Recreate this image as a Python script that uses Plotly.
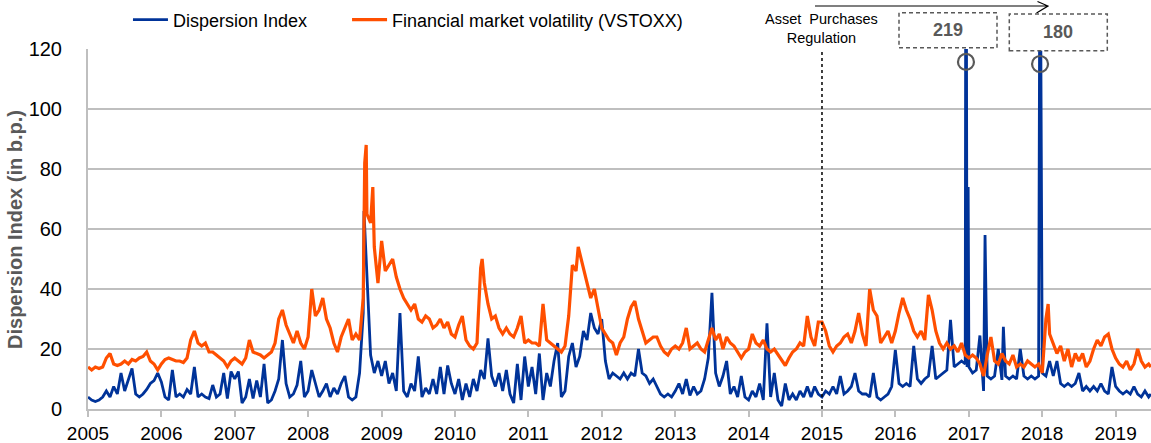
import datetime as dt
import plotly.graph_objects as go

# ---------------- data (values sampled every 0.05 year) ----------------
STEP = 0.05

VSTOXX_2005 = [14, 13, 14, 13.5, 14, 17, 18.5, 15, 14.5, 15, 16, 15, 16.5, 16, 17, 17.5, 19, 16, 15, 13]
VSTOXX_2006 = [15, 16.5, 17, 16.5, 16, 16, 15.5, 17, 23, 26, 22, 21, 22, 19, 19, 18, 17, 16, 14, 16]
VSTOXX_2007 = [17, 16, 15, 17, 23, 19, 18.5, 18, 17, 18, 19, 22, 30, 33, 28, 25, 22, 26, 22, 20]
VSTOXX_2008 = [24, 40, 31, 33, 37, 30, 27, 22, 19, 24, 27, 30, 23, 25, 23, 37, 65, 62, 54, 42]
VSTOXX_2009 = [56, 46, 48, 50, 44, 40, 37, 35, 33, 35, 30, 29, 31, 30, 27, 28, 30, 27, 29, 25]
VSTOXX_2010 = [24, 28, 31, 23, 21, 20, 22, 47, 42, 35, 30, 31, 27, 25, 27, 25, 24, 27, 31, 22]
VSTOXX_2011 = [23, 22, 22, 21, 35, 23, 22, 21, 20, 19, 21, 31, 48, 46, 52, 46, 42, 37, 40, 34]
VSTOXX_2012 = [27, 25, 23, 22, 18, 22, 24, 30, 34, 36, 30, 26, 22, 23, 24, 24, 21, 19, 18, 20]
VSTOXX_2013 = [21, 20, 22, 27, 20, 21, 22, 20, 19, 23, 27, 23, 25, 20, 24, 22, 21, 19, 17, 19]
VSTOXX_2014 = [20, 25, 22, 21, 23, 20, 19, 20, 18, 16, 14.5, 17, 19, 20, 22, 21, 31, 24, 21, 29]
VSTOXX_2015 = [29, 26, 21, 19, 21, 22, 24, 25, 22, 26, 32, 25, 21, 40, 33, 31, 22, 24, 26, 22]
VSTOXX_2016 = [26, 32, 37, 33, 30, 26, 24, 26, 23, 38, 33, 26, 22, 20, 22, 20, 21, 19, 22, 18]
VSTOXX_2017 = [17, 18, 17, 15, 11, 18, 24, 16, 15, 18.5, 16, 15, 18, 14, 15, 14, 16, 15, 14, 15]
VSTOXX_2018 = [12, 30, 25, 22, 18.5, 21, 16, 20, 14, 18.5, 16, 18.5, 14, 16, 20, 23, 21, 24, 25, 20]
VSTOXX_2019 = [17, 15, 14, 16, 13, 15, 20, 16, 14, 15]
VSTOXX_PEAK_YEARS = [2008.77, 2008.79, 2008.88, 2010.37, 2011.68, 2018.08, 2019.48]
VSTOXX_PEAK_VALUES = [82, 88, 74, 50, 54, 35, 14]

DISP_2005 = [4, 3, 2.5, 3, 4, 6, 4, 7.5, 5, 12, 6, 10, 13.5, 5, 4, 5, 6.5, 8.5, 9.5, 12]
DISP_2006 = [9, 4, 3, 13, 4, 5, 4, 6.5, 5, 14, 4, 5, 4, 3.5, 8, 4, 5, 12, 3.5, 12.5]
DISP_2007 = [10, 12.5, 2, 4, 10, 3.5, 9.5, 4, 15, 2, 3, 6, 10, 23, 8.5, 4, 5, 8, 16, 4]
DISP_2008 = [6, 13, 8.5, 4, 6, 8.5, 4, 7, 5, 8.5, 11, 4, 3, 4, 12, 32, 43, 18, 12, 16]
DISP_2009 = [11, 16, 8.5, 12, 6, 32, 6, 4, 8.5, 6, 17.5, 4, 7, 5, 10, 5, 14, 5, 14.5, 8.5]
DISP_2010 = [5, 10, 3, 8.5, 4, 10, 6, 13, 10, 23.5, 11, 7.5, 12, 6, 13, 5, 2, 15, 3, 17.5]
DISP_2011 = [7.5, 14, 5, 18.5, 3, 12, 7.5, 16, 22, 4, 6, 17.5, 22, 14, 17.5, 26, 23, 32, 27, 25]
DISP_2012 = [30, 16, 10, 12, 11, 10, 12, 10, 12, 11, 20, 12, 11, 8.5, 10, 7.5, 5, 4, 5, 4]
DISP_2013 = [6, 8.5, 5, 10, 4.5, 7.5, 5, 6, 10, 17, 38.7, 12, 7.5, 11, 16, 5, 7.5, 4, 11, 4]
DISP_2014 = [3, 6, 4, 8.5, 3, 28.6, 4, 12, 3, 1, 8.5, 3, 5, 3, 6, 4, 7.5, 4, 7.5, 5]
DISP_2015 = [4, 6, 5, 7.5, 5, 11, 5, 6, 7.5, 12, 6, 5, 5, 4, 12, 4, 3, 4, 5, 7.5]
DISP_2016 = [19.7, 8.5, 7.5, 8.5, 7.5, 21, 10, 8.5, 10, 11, 21, 10, 11, 12, 13, 29.7, 14, 15, 16, 15]
DISP_2017 = [14, 12, 13, 24.5, 6, 11, 10, 11, 20, 9.7, 11, 10, 11, 10, 20, 11, 10, 11, 10, 11]
DISP_2018 = [12, 11, 16, 11, 16, 8.5, 7.5, 8.5, 7.5, 8.5, 12, 6, 7.5, 6, 7.5, 6, 8.5, 6, 5, 14]
DISP_2019 = [7.5, 6, 5, 6, 5, 7.5, 5, 4, 6, 4]
DISP_PEAK_YEARS = [2008.76, 2016.96, 2016.975, 2016.99, 2017.22, 2017.47, 2017.97, 2019.48]
DISP_PEAK_VALUES = [66, 219, 14, 74, 58, 27.4, 180, 5]

YEARS = list(range(2005, 2020))
VSTOXX_BY_YEAR = [VSTOXX_2005, VSTOXX_2006, VSTOXX_2007, VSTOXX_2008, VSTOXX_2009,
                  VSTOXX_2010, VSTOXX_2011, VSTOXX_2012, VSTOXX_2013, VSTOXX_2014,
                  VSTOXX_2015, VSTOXX_2016, VSTOXX_2017, VSTOXX_2018, VSTOXX_2019]
DISP_BY_YEAR = [DISP_2005, DISP_2006, DISP_2007, DISP_2008, DISP_2009,
                DISP_2010, DISP_2011, DISP_2012, DISP_2013, DISP_2014,
                DISP_2015, DISP_2016, DISP_2017, DISP_2018, DISP_2019]

TICK_YEARS = list(range(2005, 2020))
LABEL_SERIES_1 = "Dispersion Index"
LABEL_SERIES_2 = "Financial market volatility (VSTOXX)"
EVENT_YEAR = 2015.0
EVENT_TEXT = "Asset\u00a0 Purchases<br>Regulation"
OFFSCALE_LABELS = ["219", "180"]
OFFSCALE_YEARS = [2016.96, 2017.97]


def to_date(y):
    yr = int(y)
    start = dt.datetime(yr, 1, 1)
    days = (dt.datetime(yr + 1, 1, 1) - start).days
    return start + dt.timedelta(days=(y - yr) * days)


def build(by_year, peak_years, peak_values):
    pts = []
    for yr, vals in zip(YEARS, by_year):
        for i, v in enumerate(vals):
            pts.append((yr + i * STEP, v))
    pts += list(zip(peak_years, peak_values))
    pts.sort()
    return [to_date(p[0]) for p in pts], [p[1] for p in pts]


dx, dy = build(DISP_BY_YEAR, DISP_PEAK_YEARS, DISP_PEAK_VALUES)
vx, vy = build(VSTOXX_BY_YEAR, VSTOXX_PEAK_YEARS, VSTOXX_PEAK_VALUES)

FONT = "Liberation Sans, Arial, sans-serif"
GRID = "#bfbfbf"
DARK = "#595959"

fig = go.Figure()
fig.add_trace(go.Scatter(x=dx, y=dy, mode="lines", name=LABEL_SERIES_1, legend="legend",
                         line=dict(color="#003399", width=2.8)))
fig.add_trace(go.Scatter(x=vx, y=vy, mode="lines", name=LABEL_SERIES_2, legend="legend2",
                         line=dict(color="#ff4f00", width=3.2)))

x_end = 2005 + 1063 / 73.4
legend_font = dict(size=18, family=FONT, color="black")

fig.update_layout(
    width=1151, height=443,
    margin=dict(l=88, r=0, t=49, b=34, autoexpand=False),
    paper_bgcolor="white", plot_bgcolor="white",
    font=dict(family=FONT, color="black"),
    showlegend=True,
    legend=dict(orientation="h", x=0.0376, xanchor="left", y=1.0806, yanchor="middle",
                font=legend_font, bgcolor="rgba(0,0,0,0)", itemwidth=35),
    legend2=dict(orientation="h", x=0.2437, xanchor="left", y=1.0806, yanchor="middle",
                 font=legend_font, bgcolor="rgba(0,0,0,0)", itemwidth=35),
    xaxis=dict(type="date", range=[to_date(2005.0), to_date(x_end)],
               tickvals=[to_date(y) for y in TICK_YEARS],
               ticktext=[str(y) for y in TICK_YEARS],
               ticks="outside", ticklen=6, tickwidth=2, tickcolor=GRID,
               showline=True, linecolor=GRID, linewidth=2,
               showgrid=False, zeroline=False,
               tickfont=dict(size=19, family=FONT, color="black")),
    yaxis=dict(range=[0, 120], dtick=20, showgrid=True, gridcolor=GRID, gridwidth=2,
               showline=True, linecolor=GRID, linewidth=2, zeroline=False,
               ticks="", ticklabelstandoff=20,
               tickfont=dict(size=20, family=FONT, color="black")),
)

# y-axis title
fig.add_annotation(text="<b>Dispersion Index (in b.p.)</b>", xref="paper", yref="paper",
                   x=-0.0687, y=0.5, xanchor="center", yanchor="middle",
                   textangle=-90, showarrow=False,
                   font=dict(size=20, family=FONT, color=DARK))

# event line + label
fig.add_shape(type="line", xref="x", yref="paper", x0=to_date(EVENT_YEAR), x1=to_date(EVENT_YEAR),
              y0=0, y1=1, line=dict(color="black", width=1.5, dash="3px,3px"))
fig.add_annotation(text=EVENT_TEXT, xref="x", yref="paper", x=to_date(EVENT_YEAR), y=1.0575,
                   xanchor="center", yanchor="middle",
                   showarrow=False, font=dict(size=14.5, family=FONT, color="black"))


def px(xp):
    return (xp - 88) / 1063


def py(yp):
    return (409 - yp) / 360


# arrow across the top
fig.add_shape(type="path", xref="paper", yref="paper",
              path=f"M {px(815)} {py(6)} L {px(1048)} {py(6)} M {px(1037.5)} {py(1.5)} L {px(1048)} {py(6)} L {px(1036.5)} {py(13)}",
              line=dict(color="black", width=1.2))

# off-scale value boxes
boxes = [(899, 997, 12.7, 47.7), (1009.3, 1107.3, 14, 50.7)]
for (x0, x1, y0, y1), lab in zip(boxes, OFFSCALE_LABELS):
    fig.add_shape(type="rect", xref="paper", yref="paper",
                  x0=px(x0), x1=px(x1), y0=py(y1), y1=py(y0),
                  line=dict(color=DARK, width=1.5, dash="4px,3px"), fillcolor="white")
    fig.add_annotation(text=f"<b>{lab}</b>", xref="paper", yref="paper",
                       x=px((x0 + x1) / 2), y=py((y0 + y1) / 2),
                       xanchor="center", yanchor="middle", showarrow=False,
                       font=dict(size=18, family=FONT, color=DARK))

# circles marking the clipped peaks
for yr, yc in zip(OFFSCALE_YEARS, [115.7, 115.0]):
    fig.add_shape(type="circle", xref="x", yref="y", xsizemode="pixel", ysizemode="pixel",
                  xanchor=to_date(yr), yanchor=yc, x0=-8, x1=8, y0=-8, y1=8,
                  line=dict(color=DARK, width=2.2))

fig.write_html("out.html", config={"displayModeBar": False},
               post_script="document.body.style.margin='0';")
